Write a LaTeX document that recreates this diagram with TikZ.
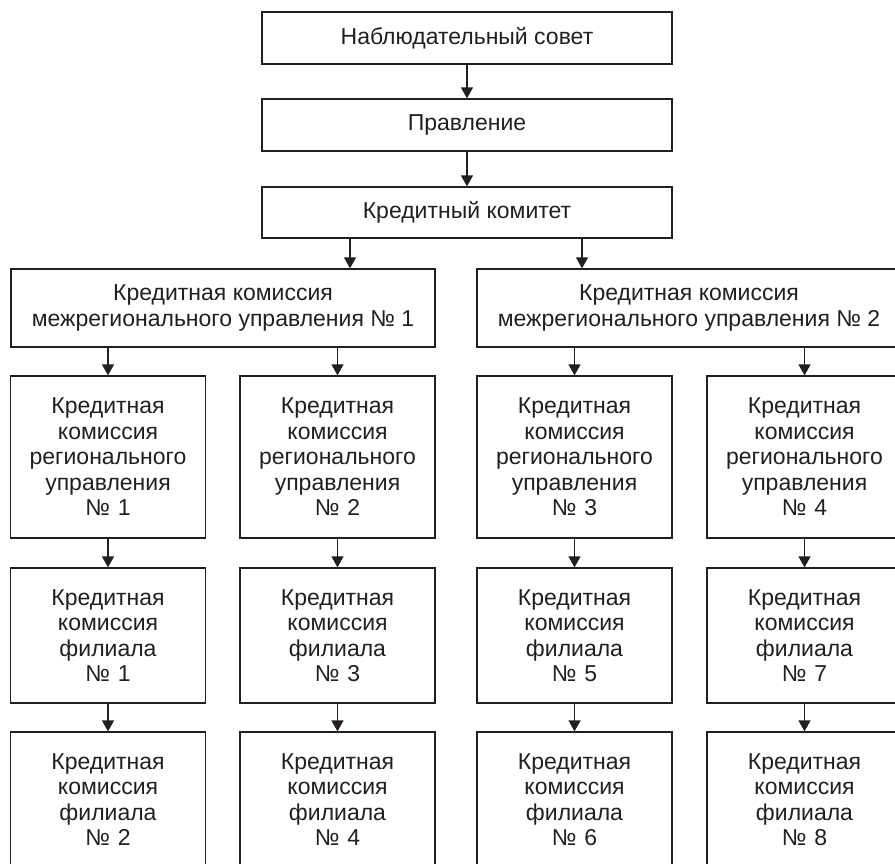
\documentclass[tikz,border=0pt]{standalone}
\usepackage{fontspec}
\setmainfont{Liberation Sans}
\usetikzlibrary{arrows.meta}
\definecolor{ink}{HTML}{231F20}
\begin{document}
\begin{tikzpicture}[x=1pt,y=-1pt,
  box/.style={draw=ink, line width=1.3pt, rectangle, inner sep=0pt,
    align=center, text=ink, font=\fontsize{23}{25.5}\selectfont},
  wide/.style={box, minimum width=410pt, minimum height=52pt},
  mid/.style={box, minimum width=424pt, minimum height=78pt},
  col/.style={box, minimum width=195pt, text width=190pt},
  arr/.style={draw=ink, line width=1.3pt, -{Triangle[width=12pt,length=11pt]}}]
\useasboundingbox[clip] (0,0) rectangle (895,863);
\fill[white] (0,0) rectangle (895,863);

% top of the hierarchy
\node[wide] (ns) at (467,38) {Наблюдательный совет};
\node[wide] (pr) at (467,125) {Правление};
\node[wide, minimum height=51pt] (kk) at (467,212.5) {Кредитный комитет};

% interregional commissions
\node[mid] (mA) at (223,308) {Кредитная комиссия\\межрегионального управления № 1};
\node[mid] (mB) at (689,308) {Кредитная комиссия\\межрегионального управления № 2};

% regional commissions
\node[col, minimum height=162pt] (r1) at (108,457) {Кредитная\\комиссия\\регионального\\управления\\№ 1};
\node[col, minimum height=162pt] (r2) at (337.5,457) {Кредитная\\комиссия\\регионального\\управления\\№ 2};
\node[col, minimum height=162pt] (r3) at (574.5,457) {Кредитная\\комиссия\\регионального\\управления\\№ 3};
\node[col, minimum height=162pt] (r4) at (804.5,457) {Кредитная\\комиссия\\регионального\\управления\\№ 4};

% branch commissions
\node[col, minimum height=135pt] (f1) at (108,635.5) {Кредитная\\комиссия\\филиала\\№ 1};
\node[col, minimum height=135pt] (f3) at (337.5,635.5) {Кредитная\\комиссия\\филиала\\№ 3};
\node[col, minimum height=135pt] (f5) at (574.5,635.5) {Кредитная\\комиссия\\филиала\\№ 5};
\node[col, minimum height=135pt] (f7) at (804.5,635.5) {Кредитная\\комиссия\\филиала\\№ 7};

\node[col, minimum height=135pt] (f2) at (108,799.5) {Кредитная\\комиссия\\филиала\\№ 2};
\node[col, minimum height=135pt] (f4) at (337.5,799.5) {Кредитная\\комиссия\\филиала\\№ 4};
\node[col, minimum height=135pt] (f6) at (574.5,799.5) {Кредитная\\комиссия\\филиала\\№ 6};
\node[col, minimum height=135pt] (f8) at (804.5,799.5) {Кредитная\\комиссия\\филиала\\№ 8};

% connectors
\draw[arr] (ns) -- (pr);
\draw[arr] (pr) -- (kk);
\draw[arr] ([xshift=-117pt]kk.south) -- ([xshift=-117pt]kk.south |- mA.north);
\draw[arr] ([xshift=115pt]kk.south) -- ([xshift=115pt]kk.south |- mB.north);
\draw[arr] (mA.south -| r1.north) -- (r1.north);
\draw[arr] (mA.south -| r2.north) -- (r2.north);
\draw[arr] (mB.south -| r3.north) -- (r3.north);
\draw[arr] (mB.south -| r4.north) -- (r4.north);
\foreach \a/\b in {r1/f1, r2/f3, r3/f5, r4/f7, f1/f2, f3/f4, f5/f6, f7/f8}
  \draw[arr] (\a) -- (\b);
\end{tikzpicture}
\end{document}
